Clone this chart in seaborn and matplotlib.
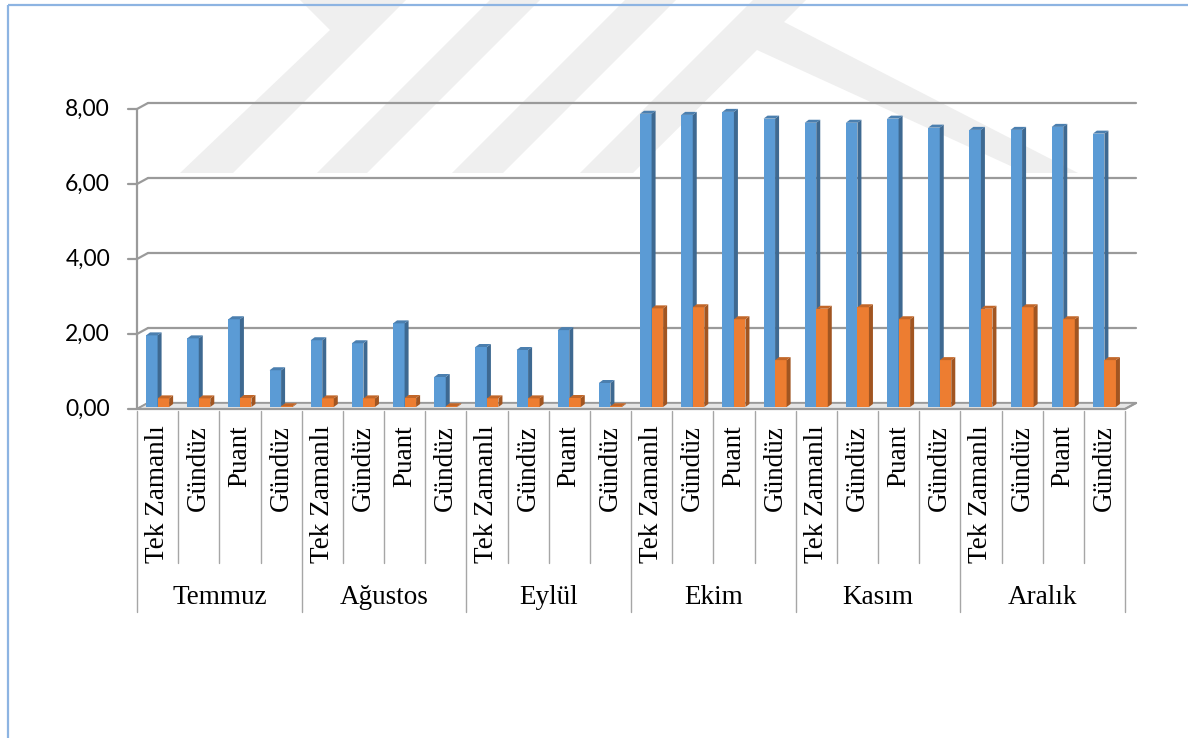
import numpy as np
import pandas as pd
import seaborn as sns
import matplotlib
matplotlib.use("Agg")
import matplotlib.pyplot as plt
from matplotlib.patches import Polygon, Rectangle
from matplotlib.colors import to_rgb
from matplotlib.transforms import offset_copy

# ---------------- data ----------------
months = ["Temmuz", "Ağustos", "Eylül", "Ekim", "Kasım", "Aralık"]
tariffs = ["Tek Zamanlı", "Gündüz", "Puant", "Gündüz"]
series_names = ["Seri 1", "Seri 2"]
blue_values = [1.91, 1.83, 2.34, 0.98,
               1.78, 1.70, 2.23, 0.80,
               1.60, 1.52, 2.05, 0.64,
               7.82, 7.79, 7.87, 7.69,
               7.58, 7.58, 7.69, 7.45,
               7.39, 7.39, 7.47, 7.29]
orange_values = [0.23, 0.23, 0.24, 0.02,
                 0.23, 0.23, 0.24, 0.02,
                 0.23, 0.23, 0.24, 0.02,
                 2.63, 2.66, 2.34, 1.25,
                 2.62, 2.66, 2.34, 1.25,
                 2.62, 2.66, 2.34, 1.25]
y_ticks = [0, 2, 4, 6, 8]
y_tick_labels = ["0,00", "2,00", "4,00", "6,00", "8,00"]

BLUE = "#5B9BD5"
ORANGE = "#ED7D31"
GRID = "#9A9A9A"

sns.set_style("white")
plt.rcParams["font.family"] = ["Lato", "DejaVu Sans"]

W, H = 1188, 738
fig = plt.figure(figsize=(W / 100, H / 100), dpi=100)

# ---------------- background (watermark + frame) ----------------
bg = fig.add_axes([0, 0, 1, 1])
bg.set_xlim(0, W)
bg.set_ylim(H, 0)
bg.axis("off")
bg.set_zorder(0)
wm = "#EFEFEF"
shapes = [
    [(180, 173), (233, 173), (406, 0), (300, 0), (330, 30)],
    [(317, 173), (367, 173), (540, 0), (490, 0)],
    [(452, 173), (503, 173), (676, 0), (625, 0)],
    [(580, 173), (633, 173), (757, 50), (1026, 173), (1078, 173),
     (784, 22), (806, 0), (753, 0)],
]
for s in shapes:
    bg.add_patch(Polygon(s, closed=True, fc=wm, ec="none"))
bg.add_patch(Rectangle((8, 5), W, H, fill=False, ec="#8DB4E2", lw=1.6))

# ---------------- main axes ----------------
ax_l, ax_r, ax_t, ax_b = 137, 1125, 109, 409
ax = fig.add_axes([ax_l / W, 1 - ax_b / H, (ax_r - ax_l) / W, (ax_b - ax_t) / H])
ax.set_zorder(1)
ax.patch.set_alpha(0)

cats = [f"{m}|{i}" for m in months for i in range(len(tariffs))]
df = pd.DataFrame({
    "cat": cats * 2,
    "series": [series_names[0]] * len(cats) + [series_names[1]] * len(cats),
    "value": blue_values + orange_values,
})
sns.barplot(data=df, x="cat", y="value", hue="series", order=cats,
            hue_order=series_names, palette=[BLUE, ORANGE], width=0.56,
            saturation=1, errorbar=None, legend=False, ax=ax,
            linewidth=0, edgecolor="none")
n = len(cats)
ax.set_xlim(-0.5, n - 0.5)
ax.set_ylim(0, 8)
ax.axis("off")

sx = (ax_r - ax_l) / n      # px per category unit
sy = (ax_b - ax_t) / 8.0    # px per value unit

# back wall depth
gx, gy = 11 / sx, 6 / sy
ax.add_patch(Polygon([(-0.5, 0), (n - 0.5, 0), (n - 0.5 + gx, gy), (-0.5 + gx, gy)],
                     closed=True, fc="#E6E6E6", ec=GRID, lw=1.2, zorder=1.5, clip_on=False))
for v, lab in zip(y_ticks, y_tick_labels):
    ax.plot([-0.5 + gx, n - 0.5 + gx], [v + gy, v + gy], color=GRID, lw=1.6, zorder=1, clip_on=False)
    ax.plot([-0.5, -0.5 + gx], [v, v + gy], color=GRID, lw=1.6, zorder=1, clip_on=False)
    ax.plot([-0.5 - 9 / sx, -0.5], [v, v], color=GRID, lw=1.6, zorder=1, clip_on=False)
    ax.text(-0.5 - 27 / sx, v, lab, ha="right", va="center", fontsize=16.5,
            family=["Lato", "DejaVu Sans"], color="black")
ax.plot([-0.5, -0.5], [0, 8], color=GRID, lw=1.6, zorder=1, clip_on=False)
ax.plot([-0.5, n - 0.5], [0, 0], color=GRID, lw=1.6, zorder=2, clip_on=False)
ax.plot([n - 0.5, n - 0.5 + gx], [0, gy], color=GRID, lw=1.6, zorder=2, clip_on=False)

# 3D faces on bars (bars sit slightly behind the front edge of the floor)
def shade(c, f):
    r, g, b = to_rgb(c)
    return (r * f, g * f, b * f)

bar_tr = offset_copy(ax.transData, fig=fig, x=0, y=2, units="dots")
dx, dy = 4 / sx, 3 / sy
blue_rgb = np.array(to_rgb(BLUE))
for p in list(ax.patches):
    if not isinstance(p, Rectangle) or p.get_width() <= 0 or p.get_width() > 1:
        continue
    fc = np.array(p.get_facecolor()[:3])
    is_blue = np.allclose(fc, blue_rgb, atol=0.02)
    base = BLUE if is_blue else ORANGE
    z = 3.0 if is_blue else 3.2
    p.set_zorder(z)
    p.set_transform(bar_tr)
    x0, w, h = p.get_x(), p.get_width(), p.get_height()
    ax.add_patch(Polygon([(x0 + w, 0), (x0 + w + dx, dy), (x0 + w + dx, h + dy), (x0 + w, h)],
                         closed=True, fc=shade(base, 0.68), ec="none", zorder=z + 0.1,
                         clip_on=False, transform=bar_tr))
    ax.add_patch(Polygon([(x0, h), (x0 + dx, h + dy), (x0 + w + dx, h + dy), (x0 + w, h)],
                         closed=True, fc=shade(base, 0.82), ec="none", zorder=z + 0.1,
                         clip_on=False, transform=bar_tr))

# category axis labels
trans = ax.get_xaxis_transform()
hpx = ax_b - ax_t
for i, c in enumerate(cats):
    ax.text(i, -(425 - ax_b) / hpx, tariffs[i % len(tariffs)], rotation=90,
            ha="center", va="top", fontsize=19.5, family=["Liberation Serif"],
            color="black", transform=trans)
for b in range(n + 1):
    x = b - 0.5
    bottom = 612 if b % len(tariffs) == 0 else 563
    ax.plot([x, x], [-(411 - ax_b) / hpx, -(bottom - ax_b) / hpx], color="#A6A6A6",
            lw=1.0, transform=trans, clip_on=False, zorder=1)
for m, name in enumerate(months):
    ax.text(m * len(tariffs) + (len(tariffs) - 1) / 2, -(598 - ax_b) / hpx, name,
            ha="center", va="center", fontsize=19.5, family=["Liberation Serif"],
            color="black", transform=trans)

fig.savefig("out.png", dpi=100)
